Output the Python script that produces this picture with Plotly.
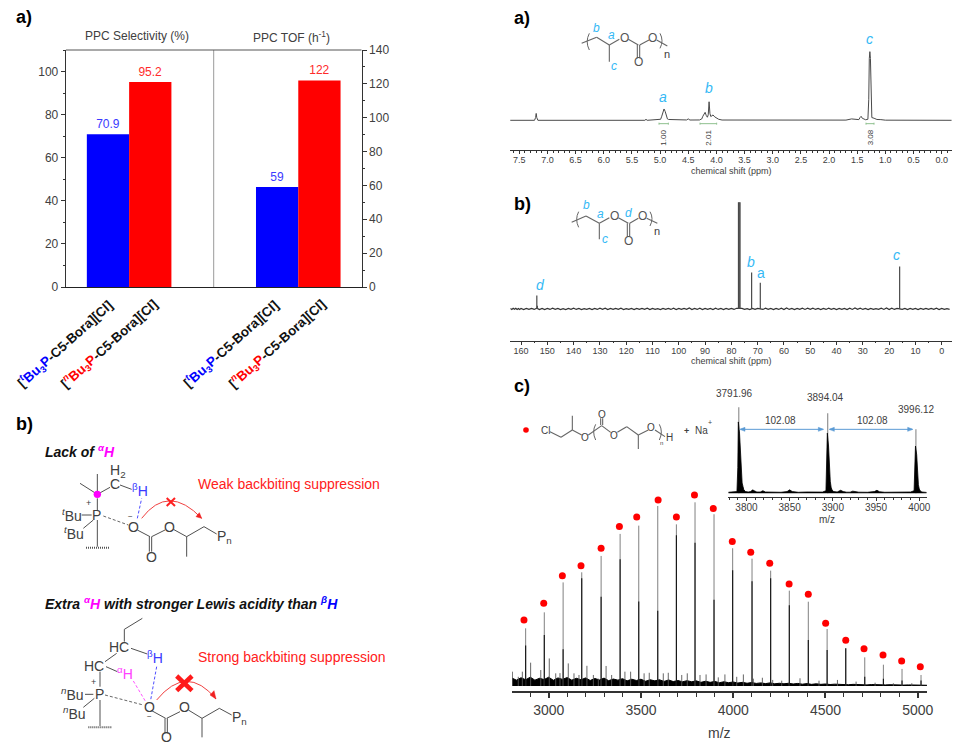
import plotly.graph_objects as go

W, H = 960, 751

# ---------- data ----------
bar_pos_sel = [1, 2]
bar_pos_tof = [5, 6]
selectivity = [70.9, 95.2]
tof = [59, 122]
bar_colors = ["#0000ff", "#ff0000"]
label_colors = ["#3a3aff", "#ff2a2a"]

# 1H NMR polyline (ppm, intensity)
h1_ppm = [7.66, 7.23, 7.21, 7.2, 7.19, 7.17, 5.27, 5.25, 5.23, 5.0, 4.99, 4.97, 4.95, 4.93, 4.91, 4.89, 4.87, 4.85, 4.8, 4.7, 4.53, 4.5, 4.47,
          4.3, 4.26, 4.24, 4.22, 4.2, 4.18, 4.16, 4.145, 4.13, 4.115, 4.1, 4.08, 4.06, 4.03, 4.0, 3.96, 3.9, 3.6, 3.47, 3.35, 1.7, 1.6, 1.55,
          1.47, 1.45, 1.43, 1.41, 1.35, 1.31, 1.295, 1.285, 1.275, 1.265, 1.255, 1.24, 1.2, 1.15, 1.08, 1.0, -0.18]
h1_int = [0, 0, 4, 10, 4, 0, 0, 1.5, 0, 0.5, 1.5, 6, 12, 16.5, 13, 6, 2, 1.2, 1, 0.4, 0.5, 2, 0.4,
          0.5, 2, 6, 10, 11.6, 7, 4.5, 8, 27, 10, 5.5, 6.5, 7.8, 5, 3, 1.5, 0.4, 0.3, 1, 0.2, 0.3, 2, 1.4,
          1, 4, 5.8, 3, 0.8, 1.5, 30, 90, 100, 90, 30, 4, 3, 1.2, 1, 0.2, 0]
h1_integrals = ["1.00", "2.01", "3.08"]

# 13C NMR
c13_grid = [164, 163.5, 163, 162.5, 162, 161.5, 161, 160.5, 160, 159, 158, 157, 156, 155, 154, 153, 152, 151, 150, 149, 148, 147, 146, 145, 144, 143, 142, 141, 140,
            139, 138, 137, 136, 135, 134, 133, 132, 131, 130, 129, 128, 127, 126, 125, 124, 123, 122, 121, 120, 119, 118, 117, 116, 115, 114, 113, 112, 111, 110,
            109, 108, 107, 106, 105, 104, 103, 102, 101, 100, 99, 98, 97, 96, 95, 94, 93, 92, 91, 90, 89, 88, 87, 86, 85, 84, 83, 82, 81, 80,
            79, 78, 76, 75, 74, 73, 72, 71, 70, 68, 67, 66, 65, 64, 63, 62, 61, 60, 59, 58, 57, 56, 55, 54, 53, 52, 51, 50,
            49, 48, 47, 46, 45, 44, 43, 42, 41, 40, 39, 38, 37, 36, 35, 34, 33, 32, 31, 30, 29, 28, 27, 26, 25, 24, 23, 22, 21, 20,
            19, 18, 17, 15, 14, 13, 12, 11, 10, 9, 8, 7, 6, 5, 4, 3, 2, 1, 0, -1, -2, -3, -4]
c13_base = [0.3, -0.5, 0.5, -0.4, 0.6, -0.6, 0.4, -0.5, 0.5, -0.6, 0.4, -0.5, 0.5, -0.5, 0.7, -0.7, 0.5, -0.6, 0.4, -0.5, 0.6, -0.4, 0.5, -0.6, 0.3, -0.6, 0.5, -0.4, 0.6,
            -0.5, 0.4, -0.6, 0.3, -0.4, 0.5, -0.6, 0.4, -0.5, 0.6, -0.4, 0.7, -0.6, 0.4, -0.5, 0.5, -0.4, 0.6, -0.6, 0.3, -0.5, 0.4, -0.6, 0.5, -0.5, 0.4, -0.4, 0.6, -0.6, 0.5,
            -0.5, 0.3, -0.6, 0.4, -0.4, 0.5, -0.5, 0.6, -0.6, 0.4, -0.5, 0.5, -0.4, 0.9, -0.6, 0.4, -0.5, 0.7, -0.6, 0.5, -0.4, 0.4, -0.6, 0.6, -0.5, 0.5, -0.6, 0.4, -0.4, 0.5,
            -0.5, 0.6, 0.4, -0.5, 0.3, -0.6, 0.4, -0.5, 0.5, -0.5, 0.6, -0.4, 0.5, -0.6, 0.5, -0.5, 0.7, -0.6, 0.8, -0.5, 0.4, -0.6, 0.5, -0.4, 0.6, -0.5, 0.7, -0.4,
            0.6, -0.5, 0.5, -0.6, 0.4, -0.5, 0.6, -0.4, 0.5, -0.6, 0.4, -0.5, 0.5, -0.6, 0.7, -0.5, 0.8, -0.4, 0.6, -0.5, 0.4, -0.6, 0.5, -0.5, 0.3, -0.4, 0.6, -0.5, 0.9, -0.6,
            0.6, -0.5, 0.5, -0.4, 0.5, -0.6, 0.4, -0.5, 0.5, -0.6, 0.4, -0.4, 0.5, -0.5, 0.4, -0.4, 0.6, -0.6, 0.4, -0.5, 0.3, -0.4]
c13_peak_ppm = [154.0, 153.8, 77.3, 77.0, 76.7, 72.3, 69.0, 16.0]
c13_peak_int = [12.5, 3, 100, 100, 100, 34, 24.6, 39.6]

# MALDI main spectrum
ms_peak_mz = [2875, 2976, 3078, 3179, 3284, 3387, 3488, 3591, 3692, 3793, 3896, 3997, 4102, 4203, 4304, 4407, 4509, 4610, 4713, 4814, 4915, 5018]
ms_peak_int = [31.4, 40.1, 56.4, 61.9, 70.8, 82.8, 87.3, 98, 88, 100, 93.5, 75, 69.3, 62.8, 51.9, 45.9, 31, 20.5, 15.6, 11.6, 9.3, 6]
ms_core_int = [22, 27.8, 20, 58.6, 48.6, 69, 46, 41, 82, 78, 47, 63, 57, 58.6, 44, 25, 19.6, 20.5, 5, 4, 3, 3]
ms_dot_mz = [2866, 2973, 3074, 3175, 3284, 3383, 3477, 3593, 3692, 3790, 3892, 3995, 4095, 4198, 4303, 4407, 4501, 4610, 4709, 4812, 4913, 5014]
ms_dot_int = [35.9, 45, 60, 65.5, 75, 86.8, 92, 101.3, 92, 104, 96.6, 78.6, 72.8, 66.8, 55.5, 49.9, 34.1, 24.9, 20.3, 16.9, 13.6, 10.5]
ms_minor_mz = [2803, 2835, 2857, 2902, 2957, 3003, 3038, 3061, 3106, 3137, 3164, 3207, 3242, 3269, 3311, 3341, 3413, 3444, 3517, 3545, 3621, 3648, 3721, 3751, 3820, 3853, 3919,
               3955, 4019, 4055, 4109, 4158, 4214, 4263, 4362, 4465, 4565, 4666, 4769, 4868, 4968]
ms_minor_int = [7.8, 5, 7.8, 12.7, 8.7, 15, 6.9, 7, 12.3, 6.9, 6, 11, 6, 4, 10.9, 6, 7.8, 7.8, 6.9, 7.2, 6.9, 7.2, 6, 6.9, 6, 6.3, 4.7,
                6.3, 5, 6.3, 4, 4.5, 3.3, 2.9, 4.2, 2.9, 3.3, 2.4, 1.8, 1.5, 1.5]
ms_band_mz = [2801, 2825, 2850, 2875, 2900, 2925, 2950, 2975, 3000, 3025, 3050, 3075, 3100, 3125, 3150, 3175, 3200, 3225, 3250, 3275, 3300, 3325, 3350, 3375,
              3400, 3425, 3450, 3475, 3500, 3525, 3550, 3575, 3600, 3625, 3650, 3675, 3700, 3725, 3750, 3775, 3800, 3825, 3850, 3875, 3900, 3925, 3950, 3975,
              4000, 4025, 4050, 4075, 4100, 4125, 4150, 4175, 4200, 4225, 4250, 4275, 4300, 4325, 4350, 4375, 4400, 4425, 4450, 4475, 4500, 4525, 4550, 4575,
              4600, 4625, 4650, 4675, 4700, 4725, 4750, 4775, 4800, 4825, 4850, 4875, 4900, 4925, 4950, 4975, 5000, 5025, 5050]
ms_band_int = [4.3, 3.2, 4.5, 3.4, 4.8, 3.2, 4.2, 3.5, 4.8, 3.1, 4.4, 3.6, 4.6, 3.2, 4.2, 3.4, 4.4, 3.0, 4.1, 3.3, 4.3, 2.9, 3.8, 3.2,
               4.0, 2.8, 3.7, 3.0, 3.7, 2.6, 3.4, 2.8, 3.4, 2.5, 3.3, 2.4, 3.0, 2.3, 2.9, 2.3, 2.8, 2.0, 2.6, 2.0, 2.5, 1.8, 2.3, 1.8,
               2.2, 1.6, 2.0, 1.5, 1.9, 1.4, 1.7, 1.3, 1.7, 1.2, 1.5, 1.2, 1.5, 1.1, 1.4, 1.0, 1.3, 0.9, 1.2, 0.9, 1.1, 0.8, 1.0, 0.8,
               1.0, 0.7, 0.9, 0.7, 0.8, 0.6, 0.8, 0.6, 0.7, 0.6, 0.7, 0.5, 0.7, 0.5, 0.6, 0.5, 0.6, 0.5, 0.4]

# MALDI inset
ins_band_mz = [3779, 3786, 3789, 3790, 3790.6, 3792, 3793, 3794, 3795, 3796, 3797, 3799, 3802, 3805, 3807, 3809, 3812, 3816, 3819, 3822, 3830, 3840, 3847, 3850, 3853, 3860, 3870, 3880, 3888,
               3892, 3893, 3893.6, 3895, 3896, 3897, 3898, 3899, 3901, 3905, 3909, 3912, 3916, 3920, 3923, 3930, 3940, 3948, 3951, 3954, 3960, 3970, 3980, 3990,
               3994, 3995, 3995.6, 3997, 3998, 3999, 4000, 4001, 4003, 4008.6]
ins_band_int = [1.2, 1.2, 2, 30, 83, 70, 45, 25, 12, 8, 4, 2, 1.5, 2, 4, 3, 1.5, 1.5, 3, 1.5, 1.2, 1.2, 2, 4, 2, 1.2, 1.5, 1.2, 1.4,
                3, 35, 70, 55, 30, 14, 7, 4, 2, 1.5, 3.5, 2, 1.3, 1.3, 2.5, 1.3, 1.2, 2, 3.5, 1.8, 1.2, 1.3, 1.2, 1.5,
                3, 25, 55, 45, 25, 10, 5, 3, 1.5, 1]
ins_peak_mz = [3791.1, 3894.0, 3996.1]
ins_peak_int = [100, 93, 74.4]
ins_peak_labels = ["3791.96", "3894.04", "3996.12"]
ins_gap_label = "102.08"

# ---------- layout helpers ----------
def fx(x): return x / W
def fy(y): return 1 - y / H
def dx(a, b): return [fx(a), fx(b)]
def dy(top, bot): return [fy(bot), fy(top)]

shapes, annos = [], []
DARK = "#404040"
CYAN = "#35b9f5"
FONT = "Liberation Sans"
DASH = "3px,2px"

def text(x, y, s, size=12, color=DARK, anchor="left", angle=0, valign="middle"):
    annos.append(dict(x=fx(x), y=fy(y), xref="paper", yref="paper", text=s, showarrow=False, xanchor=anchor, yanchor=valign,
                      textangle=angle, font=dict(size=size, color=color, family=FONT), borderpad=0, borderwidth=0))

def seg(x0, y0, x1, y1, color="#3c3c3c", width=0.9, dash="solid"):
    shapes.append(dict(type="line", xref="paper", yref="paper", x0=fx(x0), y0=fy(y0), x1=fx(x1), y1=fy(y1),
                       line=dict(color=color, width=width, dash=dash), layer="above"))

def path(d, color, width=1, fill=None):
    shapes.append(dict(type="path", xref="paper", yref="paper", path=d, line=dict(color=color, width=width),
                       fillcolor=fill if fill else "rgba(0,0,0,0)", layer="above"))

def P(x, y): return f"{fx(x):.5f} {fy(y):.5f}"

def curve(x0, y0, cx, cy, x1, y1, color, width=1):
    path(f"M {P(x0, y0)} Q {P(cx, cy)} {P(x1, y1)}", color, width)

def tri(x0, y0, x1, y1, x2, y2, color):
    path(f"M {P(x0, y0)} L {P(x1, y1)} L {P(x2, y2)} Z", color, 0.5, color)

def dot(x, y, r, color):
    shapes.append(dict(type="circle", xref="paper", yref="paper", x0=fx(x - r), x1=fx(x + r), y0=fy(y + r), y1=fy(y - r),
                       fillcolor=color, line=dict(width=0, color=color), layer="above"))

def sticks(xs, ys, base=0):
    ox, oy = [], []
    for a, b in zip(xs, ys):
        ox += [a, a, None]
        oy += [base, b, None]
    return ox, oy

# zoom-space mappers for the panels
def Zb(x, y): return x / 3, 400 + y / 3
def Za(x, y): return 500 + x / 3, y / 3
def Zc(x, y): return 500 + x / 3, 190 + y / 3
def Zd(x, y): return 500 + x / 3, 375 + y / 3

def lines(Z, pts, **kw):
    for a, b, c, d in pts:
        p, q = Z(a, b), Z(c, d)
        seg(p[0], p[1], q[0], q[1], **kw)

def ztext(Z, x, y, s, **kw):
    p = Z(x, y)
    kw.setdefault("anchor", "center")
    text(p[0], p[1], s, **kw)

fig = go.Figure()

# ---------- bars ----------
fig.add_trace(go.Bar(x=bar_pos_sel, y=selectivity, width=1, marker=dict(color=bar_colors, line=dict(width=0)),
                     text=[str(v) for v in selectivity], textposition="outside", cliponaxis=False,
                     textfont=dict(color=label_colors, size=12, family=FONT), xaxis="x", yaxis="y"))
fig.add_trace(go.Bar(x=bar_pos_tof, y=tof, width=1, marker=dict(color=bar_colors, line=dict(width=0)),
                     text=[str(v) for v in tof], textposition="outside", cliponaxis=False,
                     textfont=dict(color=label_colors, size=12, family=FONT), xaxis="x", yaxis="y2"))

# ---------- 1H ----------
fig.add_trace(go.Scatter(x=h1_ppm, y=h1_int, mode="lines", line=dict(color="#4a4a4a", width=1), xaxis="x2", yaxis="y3"))
# ---------- 13C ----------
fig.add_trace(go.Scatter(x=c13_grid, y=c13_base, mode="lines", line=dict(color="#333333", width=1.2), xaxis="x3", yaxis="y4"))
sx, sy = sticks(c13_peak_ppm, c13_peak_int)
fig.add_trace(go.Scatter(x=sx, y=sy, mode="lines", line=dict(color="#4a4a4a", width=1.2), xaxis="x3", yaxis="y4"))
# ---------- MALDI ----------
fig.add_trace(go.Scatter(x=ms_band_mz, y=ms_band_int, mode="lines", fill="tozeroy", fillcolor="#000000",
                         line=dict(color="#000000", width=1), xaxis="x4", yaxis="y5"))
sx, sy = sticks(ms_minor_mz, ms_minor_int)
fig.add_trace(go.Scatter(x=sx, y=sy, mode="lines", line=dict(color="#555555", width=0.9), xaxis="x4", yaxis="y5"))
sx, sy = sticks(ms_peak_mz, ms_peak_int)
fig.add_trace(go.Scatter(x=sx, y=sy, mode="lines", line=dict(color="#808080", width=1), xaxis="x4", yaxis="y5"))
sx, sy = sticks(ms_peak_mz, ms_core_int)
fig.add_trace(go.Scatter(x=sx, y=sy, mode="lines", line=dict(color="#111111", width=1.1), xaxis="x4", yaxis="y5"))
fig.add_trace(go.Scatter(x=ms_dot_mz, y=ms_dot_int, mode="markers", marker=dict(color="#ff0000", size=7, line=dict(width=0)),
                         xaxis="x4", yaxis="y5", cliponaxis=False))
# ---------- inset ----------
sx, sy = sticks(ins_peak_mz, ins_peak_int)
fig.add_trace(go.Scatter(x=sx, y=sy, mode="lines", line=dict(color="#9a9a9a", width=1.3), xaxis="x5", yaxis="y6"))
fig.add_trace(go.Scatter(x=ins_band_mz, y=ins_band_int, mode="lines", fill="tozeroy", fillcolor="#000000",
                         line=dict(color="#000000", width=0.8), xaxis="x5", yaxis="y6"))

# ---------- panel a (left) text ----------
text(16, 17, "<b>a)</b>", 18, "#000000")
text(137, 36, "PPC Selectivity (%)", 12, anchor="center")
text(291, 36.5, "PPC TOF (h<sup>-1</sup>)", 12, anchor="center")
shapes.append(dict(type="line", xref="x", yref="y", x0=3.5, x1=3.5, y0=0, y1=110, line=dict(color="#9a9a9a", width=1)))
for cx, cy, pre, c in [(65, 344, "t", "#0000ff"), (109, 344, "n", "#ff0000"), (231, 344, "t", "#0000ff"), (277, 344, "n", "#ff0000")]:
    s = (f"<b>[<span style='color:{c}'><sup><i>{pre}</i></sup>Bu<sub>3</sub>P</span>"
         f"<span style='color:#111111'>-C5-Bora][Cl]</span></b>")
    text(cx, cy, s, 13.3, "#111111", anchor="center", angle=-42)

# ---------- panel b (left) ----------
text(16, 424, "<b>b)</b>", 18, "#000000")
ztext(Zb, 135, 152, "<b><i>Lack of <span style='color:#ff00ff'><sup>α</sup>H</span></i></b>", size=14, color="#111111", anchor="left")
ztext(Zb, 135, 610, "<b><i>Extra <span style='color:#ff00ff'><sup>α</sup>H</span> with stronger Lewis acidity than <span style='color:#0000ff'><sup>β</sup>H</span></i></b>",
      size=14, color="#111111", anchor="left")
ztext(Zb, 595, 253, "Weak backbiting suppression", size=14, color="#ff2020", anchor="left")
ztext(Zb, 595, 772, "Strong backbiting suppression", size=14, color="#ff2020", anchor="left")
# top structure
lines(Zb, [(240, 250, 292, 283), (292, 222, 292, 283), (292, 283, 330, 262), (360, 255, 395, 268), (292, 295, 292, 330), (245, 345, 275, 345),
           (250, 385, 280, 360), (292, 360, 292, 440), (412, 390, 450, 410), (448, 410, 448, 455), (455, 410, 455, 455), (455, 410, 495, 390),
           (520, 388, 560, 410), (560, 410, 560, 470), (560, 410, 612, 380), (612, 380, 650, 402)])
lines(Zb, [(258, 443, 330, 443), (265, 982, 337, 982)], width=2, dash="1px,1px", color="#555555")
lines(Zb, [(310, 348, 385, 375), (315, 885, 430, 915)], dash=DASH, color="#555555")
lines(Zb, [(412, 355, 425, 295), (470, 800, 452, 900)], dash=DASH, color="#3a3aff")
lines(Zb, [(400, 843, 437, 905)], dash=DASH, color="#ff40ff")
a = Zb(292, 283); dot(a[0], a[1], 3.7, "#ff00ff")
ztext(Zb, 345, 253, "C", size=14); ztext(Zb, 355, 212, "H<sub>2</sub>", size=14)
ztext(Zb, 420, 270, "<span style='color:#3a3aff'><sup>β</sup>H</span>", size=14)
ztext(Zb, 265, 310, "+", size=9); ztext(Zb, 290, 345, "P", size=14)
ztext(Zb, 215, 345, "<sup><i>t</i></sup>Bu", size=14); ztext(Zb, 222, 400, "<sup><i>t</i></sup>Bu", size=14)
ztext(Zb, 400, 380, "O", size=14); ztext(Zb, 392, 348, "−", size=8)
ztext(Zb, 454, 470, "O", size=14); ztext(Zb, 507, 380, "O", size=14)
ztext(Zb, 672, 412, "P<sub>n</sub>", size=14)
p0, c0, p1 = Zb(425, 355), Zb(505, 250), Zb(605, 355)
curve(p0[0], p0[1], c0[0], c0[1], p1[0], p1[1], "#f04040")
p = Zb(605, 355); q = Zb(588, 350); r = Zb(598, 338); tri(p[0], p[1], q[0], q[1], r[0], r[1], "#f02020")
lines(Zb, [(500, 294, 525, 318), (525, 294, 500, 318)], color="#ff2020", width=2)
# bottom structure
lines(Zb, [(427, 655, 373, 688), (373, 688, 373, 725), (393, 745, 442, 762), (350, 760, 315, 785), (318, 800, 352, 815), (300, 815, 300, 860),
           (255, 883, 280, 883), (250, 922, 283, 895), (300, 900, 300, 978), (455, 932, 497, 955), (495, 955, 495, 1000), (502, 955, 502, 1000),
           (500, 955, 540, 935), (565, 930, 606, 955), (606, 955, 606, 1012), (606, 955, 658, 925), (658, 925, 695, 945)])
ztext(Zb, 358, 742, "HC", size=14); ztext(Zb, 465, 770, "<span style='color:#3a3aff'><sup>β</sup>H</span>", size=14)
ztext(Zb, 283, 797, "HC", size=14); ztext(Zb, 375, 820, "<span style='color:#ff40ff'><sup>α</sup>H</span>", size=14)
ztext(Zb, 280, 845, "+", size=9); ztext(Zb, 297, 883, "P", size=14)
ztext(Zb, 218, 883, "<sup><i>n</i></sup>Bu", size=14); ztext(Zb, 222, 940, "<sup><i>n</i></sup>Bu", size=14)
ztext(Zb, 447, 922, "O", size=14); ztext(Zb, 447, 948, "−", size=8)
ztext(Zb, 500, 1012, "O", size=14); ztext(Zb, 552, 922, "O", size=14); ztext(Zb, 718, 955, "P<sub>n</sub>", size=14)
p0, c0, p1 = Zb(470, 900), Zb(560, 790), Zb(648, 897)
curve(p0[0], p0[1], c0[0], c0[1], p1[0], p1[1], "#f04040")
p = Zb(648, 897); q = Zb(630, 885); r = Zb(642, 872); tri(p[0], p[1], q[0], q[1], r[0], r[1], "#f02020")
lines(Zb, [(530, 828, 576, 872), (576, 828, 530, 872)], color="#ff1a1a", width=4.5)

# ---------- right a ----------
text(514, 18, "<b>a)</b>", 18, "#000000")
G = "#666666"
GW = 1.1
lines(Za, [(245, 130, 290, 112), (290, 112, 328, 135), (328, 135, 358, 118), (385, 118, 415, 135), (412, 135, 412, 175), (419, 135, 419, 175),
           (419, 135, 447, 120), (470, 120, 502, 138), (328, 135, 328, 185)], color=G, width=GW)
curve(*Za(268, 100), *Za(255, 125), *Za(268, 150), G); curve(*Za(480, 100), *Za(492, 122), *Za(480, 145), G)
ztext(Za, 372, 113, "O", size=12, color="#555555"); ztext(Za, 416, 187, "O", size=12, color="#555555"); ztext(Za, 458, 113, "O", size=12, color="#555555")
ztext(Za, 500, 163, "n", size=11)
for x, y, s, sz in [(289, 85, "b", 12), (333, 105, "a", 12), (342, 197, "c", 12), (488, 290, "a", 14), (626, 265, "b", 14), (1109, 117, "c", 14)]:
    ztext(Za, x, y, f"<i>{s}</i>", size=sz, color=CYAN)
lines(Za, [(477, 371, 505, 371), (600, 371, 650, 371), (1098, 371, 1122, 371)], color="#8fc08f", width=1)
lines(Za, [(477, 368, 477, 374), (505, 368, 505, 374), (600, 368, 600, 374), (650, 368, 650, 374), (1098, 368, 1098, 374), (1122, 368, 1122, 374)], color="#8fc08f", width=1)
for x, s in zip([490, 625, 1110], h1_integrals):
    ztext(Za, x, 412, s, size=8, angle=-90)
ztext(Za, 693, 514, "chemical shift (ppm)", size=9)

# ---------- right b ----------
text(514, 204, "<b>b)</b>", 18, "#000000")
lines(Zc, [(215, 97, 258, 78), (258, 78, 298, 100), (298, 100, 328, 83), (355, 83, 385, 100), (382, 100, 382, 140), (389, 100, 389, 140),
           (389, 100, 415, 85), (440, 85, 472, 100), (298, 100, 298, 148)], color=G, width=GW)
curve(*Zc(236, 65), *Zc(224, 88), *Zc(236, 112), G); curve(*Zc(450, 65), *Zc(462, 85), *Zc(450, 108), G)
ztext(Zc, 342, 77, "O", size=12, color="#555555"); ztext(Zc, 428, 77, "O", size=12, color="#555555"); ztext(Zc, 385, 152, "O", size=12, color="#555555")
ztext(Zc, 470, 124, "n", size=11)
for x, y, s, sz in [(258, 45, "<i>b</i>", 12), (300, 72, "<i>a</i>", 12), (386, 70, "<i>d</i>", 12), (315, 148, "<i>c</i>", 12),
                    (122, 285, "<i>d</i>", 14), (752, 217, "<i>b</i>", 14), (782, 250, "a", 14), (1190, 195, "<i>c</i>", 14)]:
    ztext(Zc, x, y, s, size=sz, color=CYAN)
ztext(Zc, 693, 514, "chemical shift (ppm)", size=9)

# ---------- right c ----------
text(514, 386, "<b>c)</b>", 18, "#000000")
a = Zd(78, 165); dot(a[0], a[1], 2.8, "#ff0000")
lines(Zd, [(150, 170, 183, 187), (183, 187, 217, 165), (217, 165, 217, 122), (217, 165, 245, 180), (265, 180, 305, 152), (302, 150, 302, 130), (308, 150, 308, 130),
           (305, 152, 332, 172), (352, 172, 380, 155), (380, 155, 415, 180), (415, 180, 415, 222), (415, 180, 445, 165), (465, 165, 495, 185)], color=G, width=GW)
curve(*Zd(287, 148), *Zd(275, 170), *Zd(287, 195), G); curve(*Zd(478, 148), *Zd(490, 170), *Zd(478, 195), G)
ztext(Zd, 135, 165, "Cl", size=10); ztext(Zd, 255, 187, "O", size=10); ztext(Zd, 305, 118, "O", size=10)
ztext(Zd, 342, 180, "O", size=10); ztext(Zd, 453, 158, "O", size=10); ztext(Zd, 508, 187, "H", size=10); ztext(Zd, 483, 203, "n", size=6)
ztext(Zd, 558, 167, "<b>+</b>", size=9); ztext(Zd, 605, 167, "Na", size=10); ztext(Zd, 630, 143, "+", size=7)
for (x, y), s in zip([(703, 55), (975, 68), (1248, 103)], ins_peak_labels):
    ztext(Zd, x, y, s, size=10)
for x in (840, 1116):
    ztext(Zd, x, 135, ins_gap_label, size=10)
BL = "#5b9bd5"
for x0, x1 in [(722, 968), (990, 1236)]:
    lines(Zd, [(x0, 163, x1, 163)], color=BL, width=1)
    tri(*Zd(x0 - 3, 163), *Zd(x0 + 13, 157), *Zd(x0 + 13, 169), BL)
    tri(*Zd(x1 + 3, 163), *Zd(x1 - 13, 157), *Zd(x1 - 13, 169), BL)
text(827, 519, "m/z", 10, anchor="center")
text(719, 732.5, "m/z", 14, anchor="center")

# ---------- axes ----------
hidden_y = dict(visible=False, showgrid=False, zeroline=False, fixedrange=True, automargin=False)
def xspec(dom, rng, dtick, minor, size, anchor, width=1, color="#333333", ticklen=3, tickfmt=None, standoff=-2):
    d = dict(domain=dom, range=rng, anchor=anchor, automargin=False, showgrid=False, zeroline=False, showline=True, linecolor=color, linewidth=width,
             ticks="outside", ticklen=ticklen, tickcolor=color, tickwidth=max(width, 1) if width < 2 else 1.2, dtick=dtick, tick0=0,
             minor=dict(dtick=minor, tick0=0, ticks="outside", ticklen=max(ticklen - 1.5, 1.5), tickcolor=color, tickwidth=0.8, showgrid=False),
             tickfont=dict(size=size, color=DARK, family=FONT), ticklabelstandoff=standoff)
    if tickfmt:
        d["tickformat"] = tickfmt
    return d

bar_y = dict(domain=dy(50, 287), anchor="x", automargin=False, showgrid=False, zeroline=False, showline=True, linecolor="#333333", linewidth=1, ticks="outside", ticklen=4,
             tickcolor="#333333", dtick=20, tick0=0, minor=dict(dtick=10, tick0=0, ticks="outside", ticklen=2, tickcolor="#333333", showgrid=False),
             tickfont=dict(size=12, color=DARK, family=FONT))

# top frame of the bar panel
shapes.append(dict(type="line", xref="x", yref="paper", x0=0, x1=7, y0=fy(50), y1=fy(50), line=dict(color="#555555", width=1)))

fig.update_layout(
    width=W, height=H, autosize=False, margin=dict(l=0, r=0, t=0, b=0, pad=0), paper_bgcolor="white", plot_bgcolor="rgba(0,0,0,0)",
    showlegend=False, barmode="overlay", shapes=shapes, annotations=annos, font=dict(family=FONT, color=DARK),
    xaxis=dict(domain=dx(65.7, 361.7), range=[0, 7], anchor="y", automargin=False, showticklabels=False, ticks="", showgrid=False, zeroline=False,
               showline=True, linecolor="#222222", linewidth=1.4, mirror=False),
    yaxis={**bar_y, "range": [0, 110]},
    yaxis2={**bar_y, "range": [0, 140], "overlaying": "y", "side": "right"},
    xaxis2=xspec(dx(510, 951.7), [7.665, -0.178], 0.5, 0.1, 9, "y3", tickfmt=".1f"),
    yaxis3={**hidden_y, "domain": dy(40, 150.3), "range": [-43.7, 117], "anchor": "x2"},
    xaxis3=xspec(dx(510, 951.7), [164.2, -3.8], 10, 5, 9, "y4"),
    yaxis4={**hidden_y, "domain": dy(195, 340.7), "range": [-29.8, 106.7], "anchor": "x3"},
    xaxis4=xspec(dx(512, 927.3), [2801, 5052], 500, 100, 14, "y5", width=1.6, color="#333333", ticklen=6, standoff=0),
    yaxis5={**hidden_y, "domain": dy(490, 690.67), "range": [-2.54, 106.7], "anchor": "x4"},
    xaxis5=xspec(dx(728.3, 926.7), [3779, 4008.6], 50, 10, 10, "y6", width=0.8),
    yaxis6={**hidden_y, "domain": dy(400, 497.3), "range": [-4.65, 108.5], "anchor": "x5"},
)

fig.write_html("out.html", include_plotlyjs=True, config={"displayModeBar": False},
               post_script="document.body.style.margin='0';document.documentElement.style.overflow='hidden';")
